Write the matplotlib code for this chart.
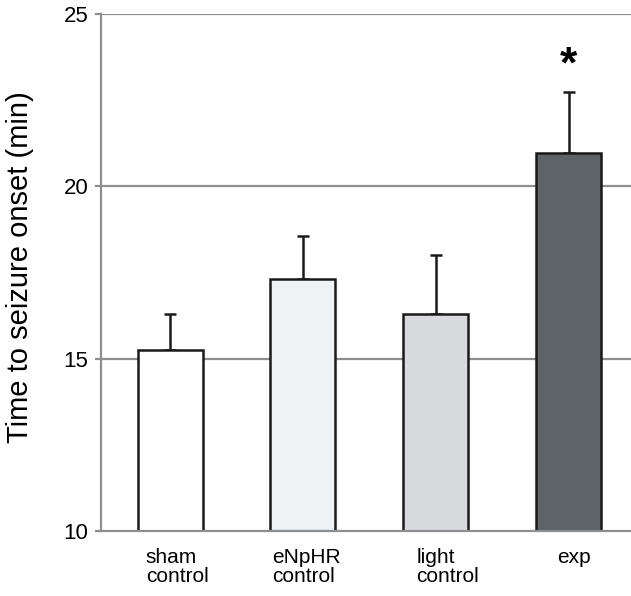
import matplotlib
matplotlib.use("Agg")
import matplotlib.pyplot as plt
from matplotlib.transforms import ScaledTranslation

categories = ["sham\ncontrol", "eNpHR\ncontrol", "light\ncontrol", "exp"]
means = [15.25, 17.31, 16.30, 20.97]
errors = [1.05, 1.25, 1.70, 1.77]
colors = ["#ffffff", "#eff2f5", "#d8dadd", "#5e6368"]
yticks = [10, 15, 20, 25]
star_label = "*"

plt.rcParams["font.family"] = ["Liberation Sans", "DejaVu Sans"]

fig = plt.figure(figsize=(6.31, 5.96), dpi=100)
ax = fig.add_axes([101/631, 1-531/596, 530/631, 517/596])

x = list(range(len(categories)))
ax.set_ylim(10, 25)
ax.set_xlim(-0.52, 3.47)
for yt in yticks[1:]:
    ax.axhline(yt, color="#8c8e90", lw=1.6, zorder=0)

ax.bar(x, [m - 10 for m in means], bottom=10, width=0.49, color=colors,
       edgecolor="#1a1a1a", linewidth=1.8, zorder=2)
ax.errorbar(x, means, yerr=[[0]*4, errors], fmt="none", ecolor="#1a1a1a",
            elinewidth=1.8, capsize=4, capthick=1.8, zorder=1)
ax.text(3, means[3] + errors[3] + 0.75, star_label, ha="center", va="center",
        fontsize=32, fontweight="bold")

for s in ["top", "right"]:
    ax.spines[s].set_visible(False)
for s in ["left", "bottom"]:
    ax.spines[s].set_color("#8c8e90")
    ax.spines[s].set_linewidth(1.6)

ax.set_yticks(yticks)
ax.set_yticklabels([str(t) for t in yticks], fontsize=16)
ax.tick_params(axis="y", length=4, width=1.6, color="#8c8e90", pad=5)
ax.set_xticks(x)
ax.set_xticklabels(categories, fontsize=15, linespacing=1.0)
ax.tick_params(axis="x", length=0, pad=12)
for lbl, off in zip(ax.get_xticklabels(), [7, 4, 12, 5]):
    lbl.set_multialignment("left")
    lbl.set_transform(lbl.get_transform() + ScaledTranslation(off/100, 0, fig.dpi_scale_trans))
ax.set_ylabel("Time to seizure onset (min)", fontsize=21)
ax.yaxis.set_label_coords(-0.126, 0.510)

fig.savefig("out.png", dpi=100)
